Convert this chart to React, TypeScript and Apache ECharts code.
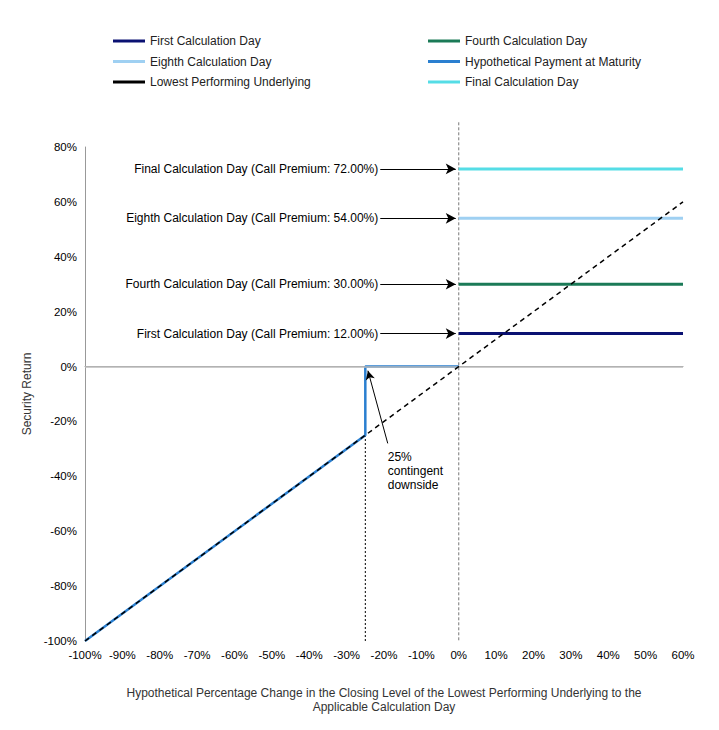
import React, { useEffect, useRef } from 'react';
import * as echarts from 'echarts';

const xRange = [-100, 60];
const lowestLine = [[-100, -100], [60, 60]];
const payment = [[-100, -100], [-25, -25], [-25, 0], [0, 0]];
const premiums = [
  { name: 'First Calculation Day', value: 12, color: '#0a1172' },
  { name: 'Fourth Calculation Day', value: 30, color: '#1b7a57' },
  { name: 'Eighth Calculation Day', value: 54, color: '#9fd0f2' },
  { name: 'Final Calculation Day', value: 72, color: '#55dde6' },
];
const legendOrder = [
  'First Calculation Day', 'Fourth Calculation Day',
  'Eighth Calculation Day', 'Hypothetical Payment at Maturity',
  'Lowest Performing Underlying', 'Final Calculation Day',
];

const font = 'Liberation Sans, Arial, sans-serif';

const App: React.FC = () => {
  const ref = useRef<HTMLDivElement>(null);

  useEffect(() => {
    const chart = echarts.init(ref.current!, null, { renderer: 'svg' });
    const premiumSeries = premiums.map((p) => ({
      name: p.name,
      type: 'line',
      data: [[0, p.value], [60, p.value]],
      symbol: 'none',
      lineStyle: { color: p.color, width: 3 },
      itemStyle: { color: p.color },
      z: 3,
      markLine: {
        silent: true,
        symbol: ['none', 'arrow'],
        symbolSize: [8, 10],
        lineStyle: { color: '#000', width: 1, type: 'solid' },
        label: {
          position: 'start', formatter: `${p.name} (Call Premium: ${p.value.toFixed(2)}%)`,
          color: '#000', fontFamily: font, fontSize: 12, distance: 2,
        },
        data: [[{ coord: [-21, p.value] }, { coord: [-0.8, p.value] }]],
      },
    }));

    const legendBase = {
      itemWidth: 32, itemHeight: 3, icon: 'rect',
      textStyle: { fontFamily: font, fontSize: 12, color: '#222' },
    };
    chart.setOption({
      animation: false,
      textStyle: { fontFamily: font },
      legend: [0, 1, 2].map((row) => ({
        ...legendBase, top: 30 + row * 20.5, left: 108,
        data: [{ name: legendOrder[row * 2] }],
      })).concat([0, 1, 2].map((row) => ({
        ...legendBase, top: 30 + row * 20.5, left: 423,
        data: [{ name: legendOrder[row * 2 + 1] }],
      }))) as any,
      grid: { left: 85, right: 36, top: 147, bottom: 89 },
      xAxis: {
        type: 'value', min: xRange[0], max: xRange[1], interval: 10,
        name: 'Hypothetical Percentage Change in the Closing Level of the Lowest Performing Underlying to the\nApplicable Calculation Day',
        nameLocation: 'middle', nameGap: 45,
        nameTextStyle: { fontSize: 12, color: '#333', lineHeight: 14 },
        axisLine: { lineStyle: { color: '#999' } },
        axisTick: { show: false },
        axisLabel: { formatter: '{value}%', fontSize: 11.5, color: '#000' },
        splitLine: { show: false },
      },
      yAxis: {
        type: 'value', min: -100, max: 80, interval: 20,
        name: 'Security Return', nameLocation: 'middle', nameGap: 50,
        nameTextStyle: { fontSize: 12, color: '#333' },
        axisLine: { show: true, onZero: false, lineStyle: { color: '#999' } },
        axisTick: { show: false },
        axisLabel: { formatter: '{value}%', fontSize: 11.5, color: '#000' },
        splitLine: { show: false },
      },
      series: [
        {
          type: 'line', data: [[-25, -100], [-25, -25]], symbol: 'none', silent: true,
          lineStyle: { color: '#000', width: 1, type: [2, 2] }, z: 1,
          markLine: {
            silent: true, symbol: 'none', label: { show: false },
            data: [[{ coord: [-100, 0] }, { coord: [60, 0] }]],
            lineStyle: { color: '#bbb', width: 1.5, type: 'solid' },
          },
        },
        ...premiumSeries,
        {
          name: 'Hypothetical Payment at Maturity', type: 'line', data: payment,
          symbol: 'none', lineStyle: { color: '#2a7fd0', width: 2.5 },
          itemStyle: { color: '#2a7fd0' }, z: 4,
        },
        {
          name: 'Lowest Performing Underlying', type: 'line', data: lowestLine,
          symbol: 'none', lineStyle: { color: '#000', width: 1.5, type: [5, 4] },
          itemStyle: { color: '#000' }, z: 5,
          markLine: {
            silent: true, symbol: ['none', 'arrow'], symbolSize: [7, 9],
            label: { show: false },
            lineStyle: { color: '#000', width: 1, type: 'solid' },
            data: [[{ coord: [-19, -28] }, { coord: [-24.3, -1.5] }]],
          },
        },
      ],
    });

    const top = chart.convertToPixel({ xAxisIndex: 0, yAxisIndex: 0 }, [0, 89]);
    const bottom = chart.convertToPixel({ xAxisIndex: 0, yAxisIndex: 0 }, [0, -100]);
    const txt = chart.convertToPixel({ xAxisIndex: 0, yAxisIndex: 0 }, [-19, -29]);
    chart.setOption({
      graphic: [
        {
          type: 'line', silent: true, z: 0,
          shape: { x1: top[0], y1: top[1], x2: bottom[0], y2: bottom[1] },
          style: { stroke: '#777', lineWidth: 1, lineDash: [3, 2] },
        },
        {
          type: 'text', x: txt[0], y: txt[1] + 4,
          style: { text: '25%\ncontingent\ndownside', font: `12px ${font}`, fill: '#000', lineHeight: 14 },
        },
      ],
    });

    return () => chart.dispose();
  }, []);

  return <div ref={ref} style={{ width: 719, height: 730, margin: -8, background: '#fff' }} />;
};

export default App;
